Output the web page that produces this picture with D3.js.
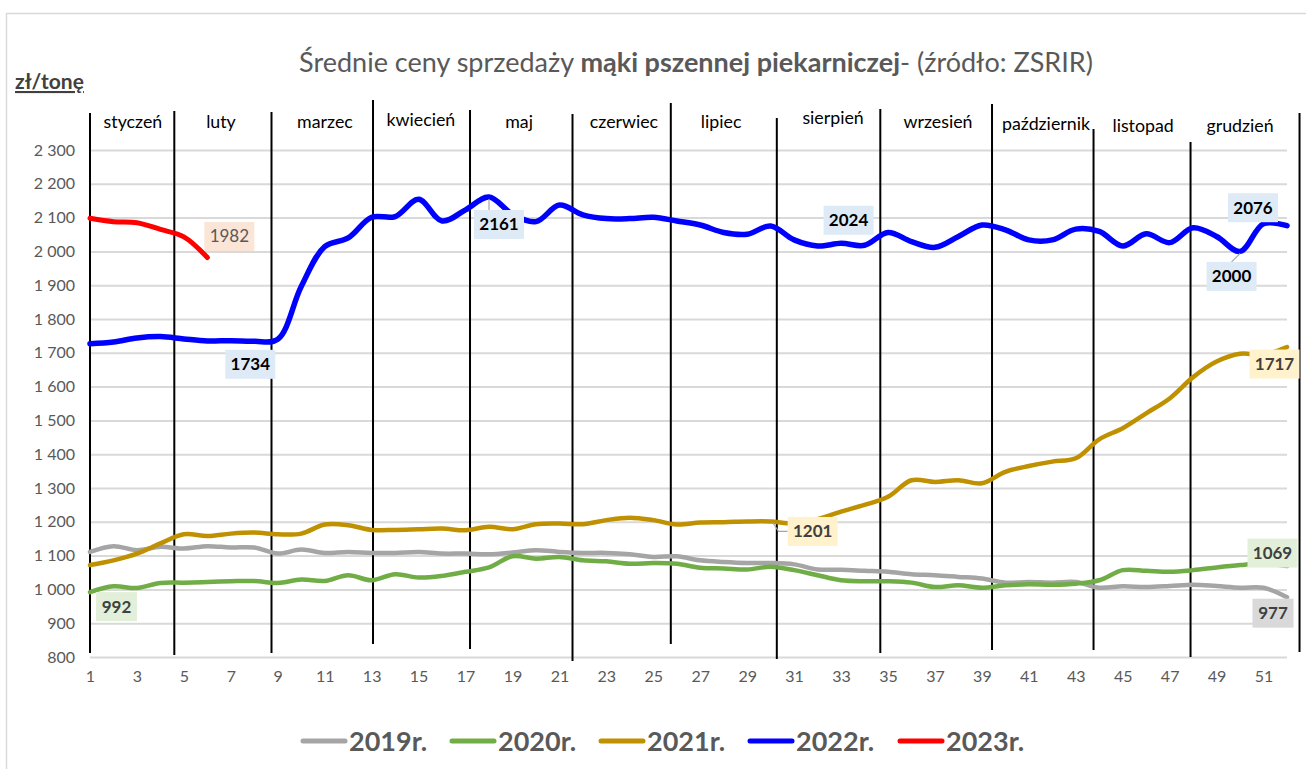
<!DOCTYPE html>
<html><head><meta charset="utf-8">
<script src="https://cdn.jsdelivr.net/npm/d3@7"></script>
<style>body{margin:0;background:#fff;} svg{display:block;font-family:Lato, "Open Sans", sans-serif;}</style>
</head><body><svg id="c" width="1306" height="769"></svg>
<script>
// ---- data ----
const weeks = [1,2,3,4,5,6,7,8,9,10,11,12,13,14,15,16,17,18,19,20,21,22,23,24,25,26,27,28,29,30,31,32,33,34,35,36,37,38,39,40,41,42,43,44,45,46,47,48,49,50,51,52];
const s2019 = [1111,1128,1116,1126,1121,1128,1124,1124,1106,1118, 1108,1111,1108,1108,1111,1106,1106,1104,1109,1116, 1111,1108,1108,1104,1096,1098,1086,1081,1078,1078, 1074,1059,1058,1055,1052,1045,1042,1037,1032,1020, 1022,1020,1022,1005,1009,1007,1010,1014,1010,1005, 1005,977];
const s2020 = [992,1009,1004,1019,1020,1022,1024,1025,1019,1029, 1025,1042,1027,1045,1035,1040,1052,1065,1098,1091, 1096,1086,1083,1076,1078,1076,1064,1062,1059,1067, 1057,1042,1027,1024,1024,1020,1007,1012,1005,1012, 1015,1014,1017,1027,1057,1055,1052,1057,1065,1072, 1077,1069];
const s2021 = [1072,1086,1106,1136,1163,1158,1165,1168,1163,1165, 1192,1190,1176,1176,1178,1180,1175,1185,1178,1193, 1195,1193,1205,1212,1205,1192,1198,1199,1201,1201, 1195,1208,1230,1250,1274,1323,1318,1323,1314,1348, 1365,1378,1388,1444,1477,1521,1565,1628,1674,1697, 1695,1717];
const s2022 = [1727,1732,1744,1748,1741,1735,1736,1734,1740,1896, 2014,2040,2101,2103,2154,2090,2123,2161,2110,2088, 2137,2108,2097,2097,2101,2090,2078,2056,2051,2075, 2034,2016,2024,2018,2056,2029,2012,2044,2078,2064, 2034,2034,2066,2059,2016,2052,2026,2070,2044,2000, 2082,2076];
const s2023 = [2098,2088,2085,2065,2043,1982];
const seriesNames = ["2019r.","2020r.","2021r.","2022r.","2023r."];
const yTicks = [800,900,1000,1100,1200,1300,1400,1500,1600,1700,1800,1900,2000,2100,2200,2300];
const xTickLabels = [1,3,5,7,9,11,13,15,17,19,21,23,25,27,29,31,33,35,37,39,41,43,45,47,49,51];
const months = ["styczeń","luty","marzec","kwiecień","maj","czerwiec","lipiec","sierpień","wrzesień","październik","listopad","grudzień"];
const monthCenters = [2.83,6.58,11.01,15.10,19.28,23.75,27.89,32.66,37.13,41.73,45.87,50.0];
const monthBounds = [1,4.592,8.733,13.058,17.191,21.558,25.746,30.263,34.672,39.432,43.757,47.890,52.534];

// ---- styles / layout ----
const colors = ["#A5A5A5","#70AD47","#BF9000","#0000FF","#FF0000"];
const widths = [4.5,4.5,4.5,5.5,5];
const seriesAll = [s2019,s2020,s2021,s2022,s2023];
const boundTop = [113,111,112,100,110,114,103,118,109,104,129,142,113];
const boundBot = [653,655,653,644,649,661,644,659,653,650,650,657,652];
const monthDy = [0,0,0,-2,0,0,0,-4,0,2,4,4];
// data labels: series index, week, offset of box centre, fill, bold, color
const labels = [
  {s:4,w:6,dx:22,dy:-21,fill:"#FBE5D6",bold:false,color:"#595959"},
  {s:3,w:8,dx:-4,dy:23,fill:"#DEEBF7",bold:true,color:"#000000"},
  {s:3,w:18,dx:10,dy:27.5,fill:"#DEEBF7",bold:true,color:"#000000",leader:true},
  {s:3,w:33,dx:7.5,dy:-23,fill:"#DEEBF7",bold:true,color:"#000000"},
  {s:3,w:52,dx:-34,dy:-18,fill:"#DEEBF7",bold:true,color:"#000000"},
  {s:3,w:50,dx:-8.5,dy:25,fill:"#DEEBF7",bold:true,color:"#000000",leader:true},
  {s:2,w:52,dx:-12.5,dy:17,fill:"#FFF2CC",bold:true,color:"#404040"},
  {s:2,w:30,dx:42,dy:10,fill:"#FFF2CC",bold:true,color:"#404040",leader:true},
  {s:1,w:1,dx:26.5,dy:14.5,fill:"#E2F0D9",bold:true,color:"#404040"},
  {s:1,w:52,dx:-14.5,dy:-13,fill:"#E2F0D9",bold:true,color:"#404040"},
  {s:0,w:52,dx:-14,dy:16,fill:"#D9D9D9",bold:true,color:"#404040"}
];

const svg = d3.select("#c");
const x = d3.scaleLinear().domain([1,52]).range([90,1287]);
const y = d3.scaleLinear().domain([800,2300]).range([657,150]);

// border
svg.append("rect").attr("x",6.5).attr("y",13.5).attr("width",1320).attr("height",780)
  .attr("fill","none").attr("stroke","#D9D9D9").attr("stroke-width",1.5);

// title
const t = svg.append("text").attr("x",696).attr("y",72).attr("text-anchor","middle")
  .attr("font-size",27).attr("fill","#595959");
t.append("tspan").text("Średnie ceny sprzedaży ");
t.append("tspan").attr("font-weight","bold").text("mąki pszennej piekarniczej");
t.append("tspan").text("- (źródło: ZSRIR)");

svg.append("text").attr("x",15).attr("y",89).attr("font-size",21).attr("font-weight","bold")
  .attr("fill","#404040").attr("text-decoration","underline").text("zł/tonę");

// gridlines
const yAxis = d3.axisLeft(y).tickValues(yTicks).tickSize(-(1287-90)).tickPadding(15)
  .tickFormat(d => d3.format(",")(d).replace(",", " "));
const gy = svg.append("g").attr("transform","translate(90,0)").call(yAxis);
gy.select(".domain").remove();
gy.selectAll(".tick line").attr("stroke","#D9D9D9").attr("stroke-width",2);
gy.selectAll(".tick text").attr("font-size",16).attr("fill","#595959").attr("font-family","Lato, sans-serif");

// x axis labels
const xAxis = d3.axisBottom(x).tickValues(xTickLabels).tickSize(0).tickPadding(14).tickFormat(d3.format("d"));
const gx = svg.append("g").attr("transform","translate(0,657)").call(xAxis);
gx.select(".domain").remove();
gx.selectAll(".tick text").attr("font-size",16).attr("fill","#595959").attr("font-family","Lato, sans-serif");

// month separators
svg.append("g").selectAll("line").data(monthBounds).join("line")
  .attr("x1",d=>x(d)).attr("x2",d=>x(d)).attr("y1",(d,i)=>boundTop[i]).attr("y2",(d,i)=>boundBot[i])
  .attr("stroke","#000").attr("stroke-width",2);

// month labels
svg.append("g").selectAll("text").data(months).join("text")
  .attr("x",(d,i)=>x(monthCenters[i])).attr("y",(d,i)=>128+monthDy[i]).attr("text-anchor","middle")
  .attr("font-size",17.8).attr("fill","#000").text(d=>d);

// lines
const line = d3.line().x((d,i)=>x(weeks[i])).y(d=>y(d)).curve(d3.curveCatmullRom.alpha(0.5));
svg.append("g").selectAll("path").data(seriesAll).join("path")
  .attr("d",d=>line(d)).attr("fill","none").attr("stroke",(d,i)=>colors[i])
  .attr("stroke-width",(d,i)=>widths[i]).attr("stroke-linejoin","round").attr("stroke-linecap","round");

// data labels
const gl = svg.append("g");
labels.forEach(l=>{
  const v = seriesAll[l.s][l.w-1];
  const px = x(l.w), py = y(v);
  const txt = String(v);
  const bw = txt.length===4 ? 50 : 41, bh = 29;
  const cx = px + l.dx, cy = py + l.dy;
  if (l.leader) {
    const ex = l.dx > 30 ? cx - bw/2 : cx + (l.dx>0? -bw/2+15 : 0);
    const ey = l.dx > 30 ? cy : (l.dy>0 ? cy - bh/2 : cy + bh/2);
    if (l.dx > 30) {
      gl.append("polyline").attr("points",`${px+2},${py+1} ${px+8},${cy} ${ex},${cy}`)
        .attr("fill","none").attr("stroke","#A6A6A6").attr("stroke-width",1.2);
    } else {
      gl.append("line").attr("x1",px).attr("y1",py+ (l.dy>0?2:-2)).attr("x2",ex).attr("y2",ey)
        .attr("stroke","#A6A6A6").attr("stroke-width",1.2);
    }
  }
  gl.append("rect").attr("x",cx-bw/2).attr("y",cy-bh/2).attr("width",bw).attr("height",bh).attr("fill",l.fill);
  gl.append("text").attr("x",cx).attr("y",cy+6).attr("text-anchor","middle")
    .attr("font-size",17).attr("font-weight",l.bold?"bold":"normal").attr("fill",l.color).text(txt);
});

// legend
const legX = [303,452,601,750,900];
const lg = svg.append("g");
seriesNames.forEach((n,i)=>{
  lg.append("line").attr("x1",legX[i]).attr("x2",legX[i]+42).attr("y1",741).attr("y2",741)
    .attr("stroke",colors[i]).attr("stroke-width",5).attr("stroke-linecap","round");
  lg.append("text").attr("x",legX[i]+46).attr("y",751).attr("font-size",27).attr("font-weight","bold")
    .attr("fill","#595959").text(n);
});
</script></body></html>
